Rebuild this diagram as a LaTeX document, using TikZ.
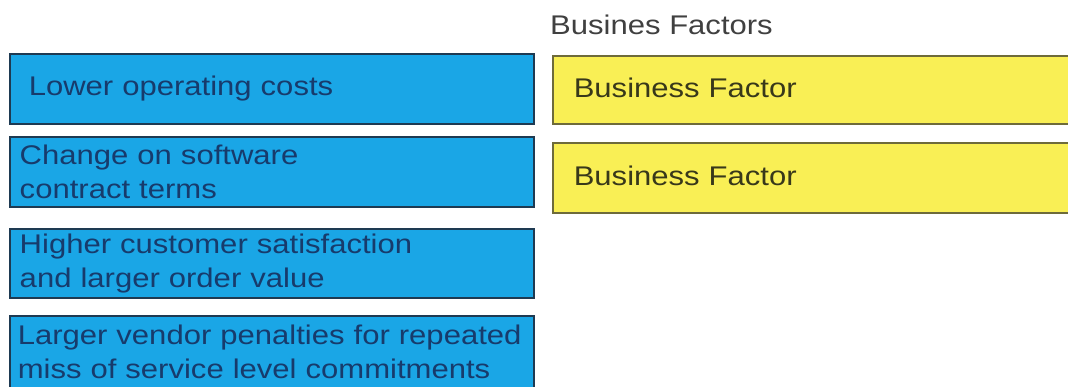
\documentclass[tikz,border=0pt]{standalone}
\usepackage{fontspec}
\setmainfont{Liberation Sans}[FakeStretch = 1.15]

\definecolor{boxblue}{HTML}{1AA6E6}
\definecolor{boxline}{HTML}{1E3A52}
\definecolor{boxtext}{HTML}{173B6C}
\definecolor{slotyellow}{HTML}{F9EF55}
\definecolor{slotline}{HTML}{6E6B3A}
\definecolor{slottext}{HTML}{38381A}
\definecolor{titletext}{HTML}{404040}

\begin{document}
\begin{tikzpicture}[x = 1pt, y = -1pt,
	factor/.style = {draw = boxline, line width = 1.5pt, fill = boxblue, text = boxtext,
		anchor = north west, minimum width = 524pt, text width = 504pt, inner xsep = 10pt,
		align = left, font = \fontsize{27}{34}\selectfont},
	slot/.style = {draw = slotline, line width = 1.5pt, fill = slotyellow, text = slottext,
		anchor = north west, minimum width = 540pt, text width = 498pt, inner xsep = 21pt,
		text height = 20pt, text depth = 4pt,
		align = left, font = \fontsize{27}{34}\selectfont}]
	%	canvas
	
	\def\xmax{1068}
	\def\ymax{386}
	
	\clip (0, 0) rectangle (\xmax, \ymax);
	
	%	factors to choose from
	\node[factor, minimum height = 70pt, text width = 486pt, inner xsep = 19pt] (lower) at (9, 53) {Lower operating costs};
	\node[factor, minimum height = 70pt] (change) at (9, 136) {Change on software\\contract terms};
	\node[factor, minimum height = 69pt] (higher) at (9, 228) {Higher customer satisfaction\\and larger order value};
	\node[factor, minimum height = 72pt, inner xsep = 8pt, text width = 508pt] (larger) at (9, 315) {Larger vendor penalties for repeated\\miss of service level commitments};
	
	%	answer area
	\node[anchor = base west, text = titletext, inner sep = 0pt, font = \fontsize{27}{34}\selectfont] (title) at (550, 34) {Busines Factors};
	\node[slot, minimum height = 68pt] (slotA) at (552, 55) {Business Factor};
	\node[slot, minimum height = 70pt] (slotB) at (552, 142) {Business Factor};
\end{tikzpicture}
\end{document}
